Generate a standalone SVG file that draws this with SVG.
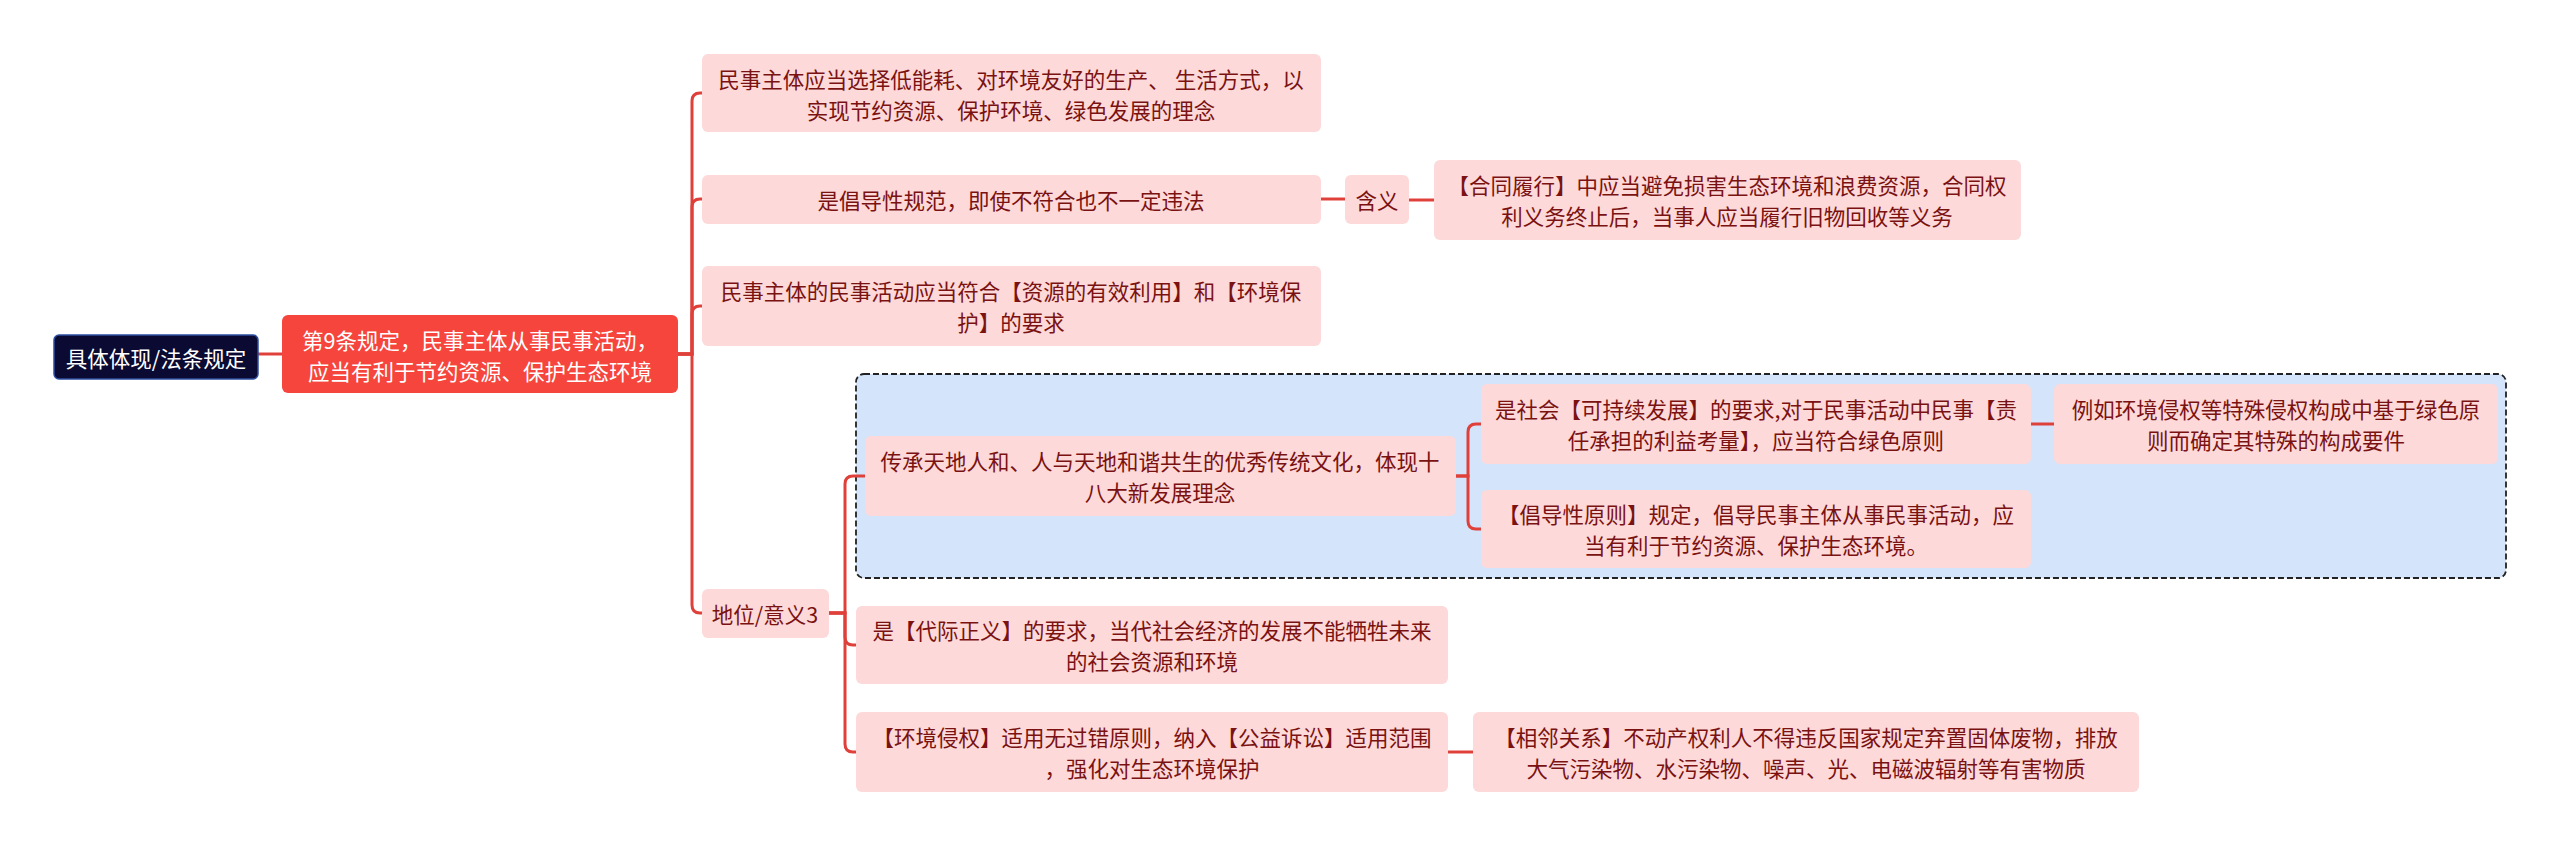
<svg xmlns="http://www.w3.org/2000/svg" width="2560" height="845" viewBox="0 0 2560 845">
<style>
.t{font-family:"Noto Sans CJK SC","Noto Sans",sans-serif;font-size:21.5px;fill:#7a1212;text-anchor:middle;dominant-baseline:central}
.w{fill:#ffffff}
.n{fill:#fdd9d9}
.c{fill:none;stroke:#e0403a;stroke-width:3}
</style>
<rect width="2560" height="845" fill="#ffffff"/>
<g id="group-box"><rect x="856" y="374" width="1650" height="204" rx="8" fill="#d4e4fb" stroke="#222" stroke-width="1.8" stroke-dasharray="6,3"/></g>
<g id="connectors">
<path class="c" d="M258,354 H282"/>
<path class="c" d="M678,354 H692 V101 Q692,93 700,93 H702"/>
<path class="c" d="M678,354 H692 V207 Q692,199 700,199 H702"/>
<path class="c" d="M678,354 H692 V314 Q692,306 700,306 H702"/>
<path class="c" d="M678,354 H692 V605 Q692,613 700,613 H702"/>
<path class="c" d="M1321,199 H1345"/>
<path class="c" d="M1409,200 H1434"/>
<path class="c" d="M829,613 H845 V484 Q845,476 853,476 H865"/>
<path class="c" d="M829,613 H845 V637 Q845,645 853,645 H856"/>
<path class="c" d="M829,613 H845 V744 Q845,752 853,752 H856"/>
<path class="c" d="M1456,476 H1468 V432 Q1468,424 1476,424 H1481"/>
<path class="c" d="M1456,476 H1468 V521 Q1468,529 1476,529 H1481"/>
<path class="c" d="M2031,424 H2054"/>
<path class="c" d="M1448,752 H1473"/>
</g>
<g id="root"><rect x="54" y="335" width="204" height="44" rx="5" fill="#0a0a32" stroke="#2c4ea0" stroke-width="1.5"/><text class="t w" x="156" y="357">具体体现/法条规定</text></g>
<g id="main"><rect x="282" y="315" width="396" height="78" rx="6" fill="#f5453d"/><text class="t w" x="480" y="339">第9条规定，民事主体从事民事活动，</text><text class="t w" x="480" y="370">应当有利于节约资源、保护生态环境</text></g>
<g id="c1"><rect class="n" x="702" y="54" width="619" height="78" rx="6"/><text class="t" x="1011" y="78">民事主体应当选择低能耗、对环境友好的生产、 生活方式，以</text><text class="t" x="1011" y="109">实现节约资源、保护环境、绿色发展的理念</text></g>
<g id="c2"><rect class="n" x="702" y="175" width="619" height="49" rx="6"/><text class="t" x="1011" y="199.5">是倡导性规范，即使不符合也不一定违法</text></g>
<g id="hanyi"><rect class="n" x="1345" y="175" width="64" height="49" rx="6"/><text class="t" x="1377" y="199.5">含义</text></g>
<g id="hetong"><rect class="n" x="1434" y="160" width="587" height="80" rx="6"/><text class="t" x="1727" y="184">【合同履行】中应当避免损害生态环境和浪费资源，合同权</text><text class="t" x="1727" y="215">利义务终止后，当事人应当履行旧物回收等义务</text></g>
<g id="c3"><rect class="n" x="702" y="266" width="619" height="80" rx="6"/><text class="t" x="1011" y="290">民事主体的民事活动应当符合【资源的有效利用】和【环境保</text><text class="t" x="1011" y="321">护】的要求</text></g>
<g id="diwei"><rect class="n" x="702" y="589" width="127" height="49" rx="6"/><text class="t" x="765" y="613.5">地位/意义3</text></g>
<g id="chuancheng"><rect class="n" x="865" y="436" width="591" height="80" rx="6"/><text class="t" x="1160" y="460">传承天地人和、人与天地和谐共生的优秀传统文化，体现十</text><text class="t" x="1160" y="491">八大新发展理念</text></g>
<g id="kechixu"><rect class="n" x="1481" y="384" width="550" height="80" rx="6"/><text class="t" x="1756" y="408">是社会【可持续发展】的要求,对于民事活动中民事【责</text><text class="t" x="1756" y="439">任承担的利益考量】，应当符合绿色原则</text></g>
<g id="liru"><rect class="n" x="2054" y="384" width="444" height="80" rx="6"/><text class="t" x="2276" y="408">例如环境侵权等特殊侵权构成中基于绿色原</text><text class="t" x="2276" y="439">则而确定其特殊的构成要件</text></g>
<g id="changdao"><rect class="n" x="1481" y="490" width="550" height="78" rx="6"/><text class="t" x="1756" y="513">【倡导性原则】规定，倡导民事主体从事民事活动，应</text><text class="t" x="1756" y="544">当有利于节约资源、保护生态环境。</text></g>
<g id="daiji"><rect class="n" x="856" y="606" width="592" height="78" rx="6"/><text class="t" x="1152" y="629">是【代际正义】的要求，当代社会经济的发展不能牺牲未来</text><text class="t" x="1152" y="660">的社会资源和环境</text></g>
<g id="qinquan"><rect class="n" x="856" y="712" width="592" height="80" rx="6"/><text class="t" x="1152" y="736">【环境侵权】适用无过错原则，纳入【公益诉讼】适用范围</text><text class="t" x="1152" y="767">，强化对生态环境保护</text></g>
<g id="xianglin"><rect class="n" x="1473" y="712" width="666" height="80" rx="6"/><text class="t" x="1806" y="736">【相邻关系】不动产权利人不得违反国家规定弃置固体废物，排放</text><text class="t" x="1806" y="767">大气污染物、水污染物、噪声、光、电磁波辐射等有害物质</text></g>
</svg>
